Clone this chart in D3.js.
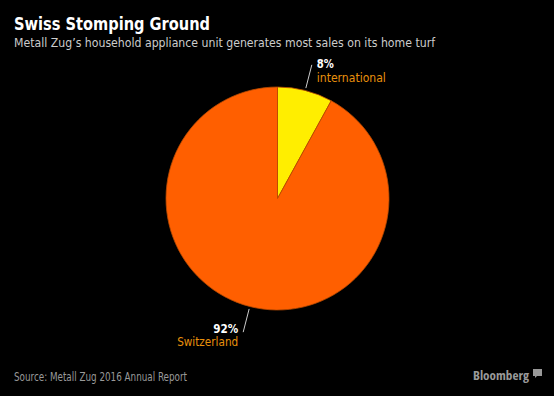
<!DOCTYPE html>
<html lang="en">
<head>
<meta charset="UTF-8">
<title>Swiss Stomping Ground</title>
<script src="https://d3js.org/d3.v7.min.js"></script>
<style>
  html, body { margin: 0; padding: 0; background: #000; }
  svg { display: block; font-family: "DejaVu Sans", sans-serif; font-stretch: condensed; }
</style>
</head>
<body>
<div id="chart"></div>
<script>
const regions = ["international", "Switzerland"];
const shares = [8, 92];
const sliceColors = ["#ffee00", "#ff5f00"];

const width = 554, height = 396;
const cx = 277.5, cy = 198.5, radius = 111.5;

const svg = d3.select("#chart").append("svg")
    .attr("width", width)
    .attr("height", height);

svg.append("rect").attr("width", width).attr("height", height).attr("fill", "#000");

// fixed-width text helper, the original font is narrower than anything installed
function label(x, y, str, size, fill, len, opts = {}) {
    const t = svg.append("text")
        .attr("x", x).attr("y", y)
        .attr("fill", fill)
        .attr("font-size", size)
        .attr("text-anchor", opts.anchor || "start")
        .attr("font-weight", opts.bold ? "bold" : "normal")
        .text(str);
    if (len) t.attr("textLength", len).attr("lengthAdjust", "spacingAndGlyphs");
    return t;
}

label(14, 30, "Swiss Stomping Ground", 18, "#fff", 196, { bold: true });
label(14, 47, "Metall Zug\u2019s household appliance unit generates most sales on its home turf", 13, "#ccc", 421);

const data = regions.map((r, i) => ({ region: r, share: shares[i], color: sliceColors[i] }));

const pie = d3.pie().sort(null).value(d => d.share);
const arc = d3.arc().innerRadius(0).outerRadius(radius);
const arcs = pie(data);

svg.append("g")
    .attr("transform", `translate(${cx},${cy})`)
    .selectAll("path")
    .data(arcs)
    .enter().append("path")
    .attr("d", arc)
    .attr("fill", d => d.data.color)
    .attr("stroke", "#b84a00")
    .attr("stroke-width", 0.8);

// leader lines and labels at each slice's mid angle
const lineInner = radius + 2.5, lineOuter = radius + 26.5;
const pctWidths = [17, 25], nameWidths = [69, 61];
arcs.forEach((d, i) => {
    const a = (d.startAngle + d.endAngle) / 2;
    const x1 = cx + Math.sin(a) * lineInner, y1 = cy - Math.cos(a) * lineInner;
    const x2 = cx + Math.sin(a) * lineOuter, y2 = cy - Math.cos(a) * lineOuter;
    svg.append("line")
        .attr("x1", x1).attr("y1", y1)
        .attr("x2", x2).attr("y2", y2)
        .attr("stroke", "#ccc")
        .attr("stroke-width", 1);

    const right = x2 > cx;
    const anchor = right ? "start" : "end";
    const tx = right ? x2 + 5 : x2 - 5;
    const ty = right ? y2 + 3 : y2 + 0.5;
    label(tx, ty, d.data.share + "%", 12, "#fff", pctWidths[i], { bold: true, anchor });
    label(tx, ty + (right ? 14 : 13), d.data.region, 12, "#e8900c", nameWidths[i], { anchor });
});

label(14, 381, "Source: Metall Zug 2016 Annual Report", 12, "#999", 173);
label(529, 380, "Bloomberg", 12, "#999", 56, { bold: true, anchor: "end" })
    .attr("font-family", "'Open Sans', sans-serif");

svg.append("path")
    .attr("d", "M533,369h9v7h-5l-2,2v-2h-2z")
    .attr("fill", "#999");
</script>
</body>
</html>
